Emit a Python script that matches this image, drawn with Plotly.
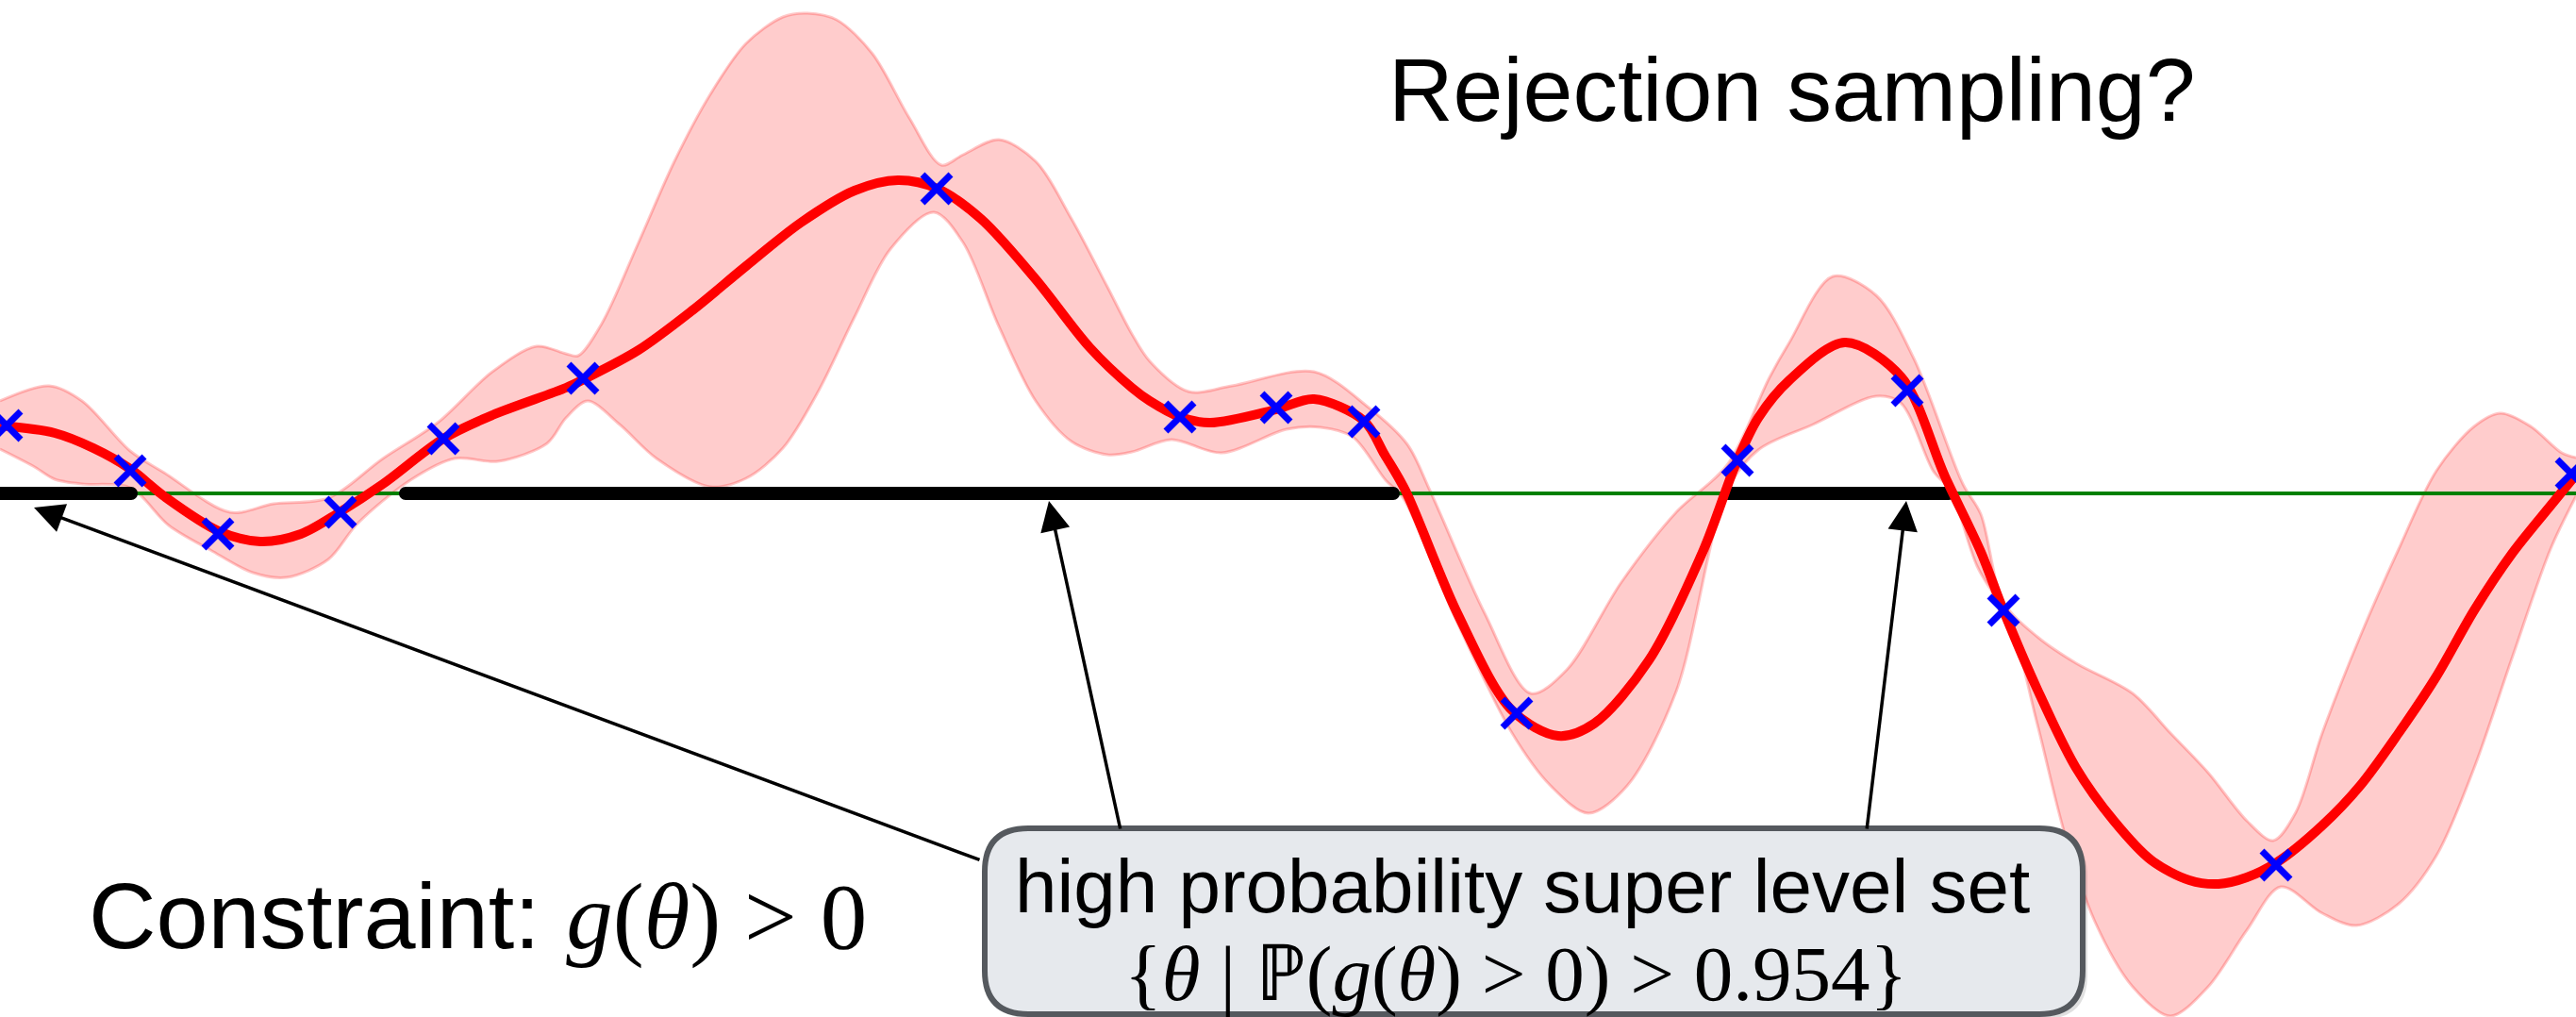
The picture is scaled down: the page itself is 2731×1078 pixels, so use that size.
import plotly.graph_objects as go

# ---- data (theta, g) ----
mean_theta = [0, .58, .99, 1.38, 1.74, 2.32, 2.76, 3.19, 3.60, 4.06, 4.70, 5.22, 6.00, 6.19, 6.77, 7.34,
              7.91, 8.49, 9.06, 9.52, 9.94, 10.40, 10.98, 11.55, 12.00, 12.19, 12.51, 12.83, 13.53, 13.93,
              14.46, 14.68, 14.90, 15.45, 16.03, 16.52, 16.90, 17.48, 18.06, 18.41, 18.64, 18.97, 19.56,
              20.16, 20.62, 21.00, 21.24, 21.60, 22.01, 22.41, 22.81, 23.21, 23.52, 23.82, 24.14, 24.62,
              25.02, 25.43, 25.83, 26.23, 26.63, 27.04, 27.31]
mean_g = [0.72, 0.64, 0.48, 0.26, -0.03, -0.40, -0.51, -0.43, -0.20, 0.10, 0.58, 0.83, 1.12, 1.21, 1.52,
          1.94, 2.41, 2.87, 3.21, 3.32, 3.23, 2.91, 2.27, 1.55, 1.12, 0.98, 0.81, 0.75, 0.89, 1.00, 0.77,
          0.41, 0.03, -1.27, -2.30, -2.57, -2.44, -1.77, -0.60, 0.33, 0.80, 1.20, 1.60, 1.23, 0.18, -0.62,
          -1.24, -2.08, -2.91, -3.47, -3.89, -4.10, -4.14, -4.07, -3.91, -3.52, -3.10, -2.54, -1.94, -1.24,
          -0.64, -0.13, 0.20]

upper_theta = [0, .52, .87, 1.38, 1.74, 2.44, 2.90, 3.48, 4.06, 4.64, 5.22, 5.69, 6.00, 6.13, 6.38, 6.77,
               7.15, 7.53, 7.91, 8.30, 8.56, 8.87, 9.25, 9.64, 9.98, 10.21, 10.59, 10.98, 11.36, 11.74,
               12.00, 12.19, 12.60, 13.06, 13.93, 14.51, 14.92, 15.16, 15.74, 16.23, 16.61, 17.19, 17.77,
               18.31, 18.76, 18.97, 19.43, 19.89, 20.29, 20.81, 21.00, 21.24, 21.60, 22.01, 22.61, 23.01,
               23.41, 23.82, 24.10, 24.34, 24.62, 25.02, 25.43, 25.83, 26.23, 26.51, 26.83, 27.16, 27.31]
upper_g = [0.98, 1.14, 0.98, 0.45, 0.22, -0.20, -0.11, -0.05, 0.37, 0.75, 1.29, 1.56, 1.48, 1.46, 1.80,
           2.66, 3.52, 4.23, 4.77, 5.05, 5.09, 5.02, 4.66, 3.98, 3.48, 3.59, 3.75, 3.52, 2.91, 2.19, 1.69,
           1.40, 1.08, 1.14, 1.29, 0.91, 0.52, 0.03, -1.27, -2.12, -1.87, -0.94, -0.20, 0.30, 1.23, 1.60,
           2.30, 2.10, 1.43, 0.10, -0.22, -1.15, -1.52, -1.80, -2.12, -2.54, -2.96, -3.47, -3.68, -3.38,
           -2.54, -1.52, -0.59, 0.24, 0.71, 0.85, 0.71, 0.43, 0.38]

lower_theta = [0, .35, .58, .87, 1.38, 1.79, 2.23, 2.68, 3.04, 3.48, 3.79, 4.35, 4.82, 5.28, 5.80, 6.00,
               6.23, 6.57, 6.96, 7.53, 7.91, 8.30, 8.68, 9.06, 9.44, 9.90, 10.21, 10.59, 10.98, 11.36,
               11.74, 12.00, 12.42, 12.95, 13.64, 14.00, 14.34, 14.69, 14.87, 15.45, 16.03, 16.44, 16.84,
               17.25, 17.77, 18.31, 18.64, 19.22, 19.89, 20.15, 20.50, 20.68, 20.96, 21.31, 21.60, 21.89,
               22.21, 22.61, 23.01, 23.41, 23.82, 24.18, 24.62, 24.98, 25.43, 25.83, 26.23, 26.63, 27.04,
               27.31]
lower_g = [0.47, 0.29, 0.15, 0.10, 0.06, -0.34, -0.60, -0.84, -0.89, -0.70, -0.32, 0.14, 0.37, 0.34, 0.53,
           0.80, 0.98, 0.73, 0.37, 0.07, 0.16, 0.48, 1.09, 1.87, 2.59, 2.98, 2.66, 1.77, 0.98, 0.55, 0.41,
           0.44, 0.57, 0.43, 0.68, 0.70, 0.60, 0.14, -0.04, -1.37, -2.54, -3.10, -3.39, -3.10, -2.10, 0.03,
           0.46, 0.73, 1.03, 0.96, 0.23, 0.03, -0.77, -1.37, -2.45, -3.61, -4.54, -5.23, -5.54, -5.23,
           -4.63, -4.17, -4.45, -4.58, -4.35, -3.84, -2.91, -1.75, -0.59, -0.03]

obs_theta = [0.07, 1.38, 2.31, 3.61, 4.70, 6.18, 9.93, 12.51, 13.53, 14.46, 16.08, 18.42, 20.22, 21.24,
             24.13, 27.26]
obs_g = [0.72, 0.24, -0.43, -0.20, 0.58, 1.22, 3.23, 0.81, 0.91, 0.76, -2.33, 0.35, 1.09, -1.24, -3.94, 0.21]

threshold = 0.0
theta_range = [0, 27.31]
set_start = [0.0, 4.30, 18.32]
set_end = [1.39, 14.77, 20.66]

title_text = "Rejection sampling?"
constraint_text = ("Constraint: <span style='font-family:Liberation Serif'>"
                   "<i>g</i>(<i>θ</i>) &gt; 0</span>")
box_line1 = "high probability super level set"
box_line2 = "{<i>θ</i> | ℙ(<i>g</i>(<i>θ</i>) &gt; 0) &gt; 0.954}"

W, H = 2731, 1078

fig = go.Figure()
band_line = dict(color="rgba(255,0,0,0.22)", width=3, shape="spline", smoothing=0.9)
fig.add_trace(go.Scatter(x=lower_theta, y=lower_g, mode="lines", line=band_line, hoverinfo="skip"))
fig.add_trace(go.Scatter(x=upper_theta, y=upper_g, mode="lines", line=band_line, fill="tonexty",
                         fillcolor="rgba(255,0,0,0.2)", hoverinfo="skip"))
fig.add_trace(go.Scatter(x=theta_range, y=[threshold, threshold], mode="lines",
                         line=dict(color="#008000", width=4)))
bx, by = [], []
for s, e in zip(set_start, set_end):
    bx += [s, e, None]
    by += [threshold, threshold, None]
fig.add_trace(go.Scatter(x=bx, y=by, mode="lines+markers", line=dict(color="black", width=14),
                         marker=dict(color="black", size=14, line=dict(width=0))))
fig.add_trace(go.Scatter(x=mean_theta, y=mean_g, mode="lines",
                         line=dict(color="#ff0000", width=10, shape="spline", smoothing=0.9)))
fig.add_trace(go.Scatter(x=obs_theta, y=obs_g, mode="markers",
                         marker=dict(symbol="x-thin", size=30, line=dict(color="blue", width=7))))

# box (paper coords) with a soft shadow
def rounded(l, r, t, b, rxp, ryp):
    return (f"M{l+rxp},{t} H{r-rxp} Q{r},{t} {r},{t-ryp} V{b+ryp} Q{r},{b} {r-rxp},{b} "
            f"H{l+rxp} Q{l},{b} {l},{b+ryp} V{t-ryp} Q{l},{t} {l+rxp},{t} Z")

L, R = 1044 / W, 2208 / W
T, B = 1 - 878 / H, 1 - 1075 / H
rx, ry = 46 / W, 46 / H
dx, dy = 5 / W, 5 / H
fig.add_shape(type="path", path=rounded(L + dx, R + dx, T - dy, B - dy, rx, ry), xref="paper",
              yref="paper", fillcolor="rgba(0,0,0,0.12)", line=dict(width=0), layer="above")
fig.add_shape(type="path", path=rounded(L, R, T, B, rx, ry), xref="paper", yref="paper",
              fillcolor="#e6e9ed", line=dict(color="#55595e", width=6), layer="above")

ann = []
def txt(t, xpx, ypx, size, family="Liberation Sans"):
    ann.append(dict(text=t, x=xpx / W, y=1 - ypx / H, xref="paper", yref="paper",
                    showarrow=False, xanchor="center", yanchor="middle",
                    font=dict(family=family, size=size, color="black")))

txt(title_text, 1900, 95, 95)
txt(constraint_text, 507, 971, 99)
txt(box_line1, 1614, 939, 80)
txt(box_line2, 1607, 1032, 83, "Liberation Serif")

def arrow(hx, hy, tx, ty):
    ann.append(dict(text="", x=hx, y=hy, ax=tx, ay=ty, xref="x", yref="y", axref="x", ayref="y",
                    showarrow=True, arrowhead=2, arrowsize=1.8, arrowwidth=3.5, arrowcolor="black",
                    standoff=0, startstandoff=0))

arrow(0.36, -0.15, 10.40, -3.89)
arrow(11.12, -0.08, 11.88, -3.57)
arrow(20.21, -0.08, 19.79, -3.57)

fig.update_layout(width=W, height=H, margin=dict(l=0, r=0, t=0, b=0), showlegend=False,
                  paper_bgcolor="white", plot_bgcolor="white", annotations=ann,
                  xaxis=dict(range=theta_range, visible=False, fixedrange=True),
                  yaxis=dict(range=[-5.55, 5.23], visible=False, fixedrange=True))
fig.write_html("out.html", config={"displayModeBar": False},
               post_script="document.body.style.margin='0';")
